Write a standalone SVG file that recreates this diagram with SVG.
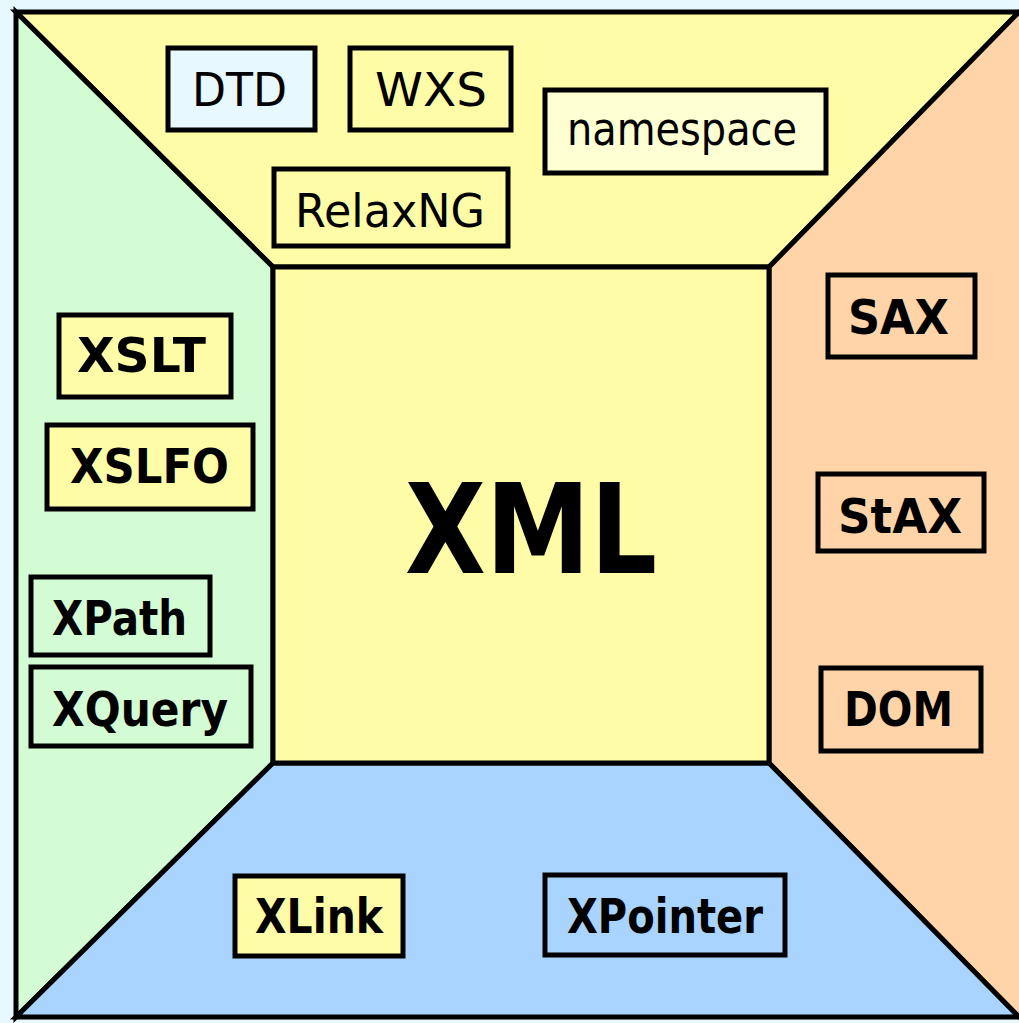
<svg xmlns="http://www.w3.org/2000/svg" width="1019" height="1023" viewBox="0 0 1019 1023">
<style>
.edge{stroke:#000;stroke-width:5;stroke-linejoin:miter}
.box{stroke:#000;stroke-width:5}
.lbl{font-family:"DejaVu Sans","Liberation Sans",sans-serif;font-size:47px;text-anchor:middle;fill:#000}
.b{font-weight:bold;font-size:48px}
.yel{fill:#fffca8}.grn{fill:#d4fcd4}.org{fill:#ffd4a8}.blu{fill:#a8d4ff}.sky{fill:#e8f8ff}.lyel{fill:#ffffd4}
</style>
<rect x="0" y="0" width="1019" height="1023" fill="#e8f8ff"/>
<g id="panels">
<polygon class="edge yel" points="16,12 1019,12 769,267 273,267"/>
<polygon class="edge grn" points="16,12 273,267 273,763 16,1017"/>
<polygon class="edge org" points="1019,12 1035,12 1035,1017 1019,1017 769,763 769,267"/>
<polygon class="edge blu" points="16,1017 273,763 769,763 1019,1017"/>
</g>
<g id="xml">
<rect class="edge yel" x="273" y="267" width="496" height="496"/>
<text class="lbl b" x="531" y="573" style="font-size:124px" textLength="252" lengthAdjust="spacingAndGlyphs">XML</text>
</g>
<g id="dtd"><rect class="box sky" x="168" y="48" width="147" height="82"/><text class="lbl" x="239.5" y="106" textLength="95" lengthAdjust="spacingAndGlyphs">DTD</text></g>
<g id="wxs"><rect class="box yel" x="350" y="48" width="161" height="82"/><text class="lbl" x="431" y="106" textLength="112" lengthAdjust="spacingAndGlyphs">WXS</text></g>
<g id="relaxng"><rect class="box yel" x="274" y="169" width="234" height="77"/><text class="lbl" x="390" y="227" textLength="190" lengthAdjust="spacingAndGlyphs">RelaxNG</text></g>
<g id="namespace"><rect class="box lyel" x="545" y="90" width="281" height="83"/><text class="lbl" x="682" y="145" textLength="230" lengthAdjust="spacingAndGlyphs">namespace</text></g>
<g id="xslt"><rect class="box yel" x="59" y="315" width="172" height="82"/><text class="lbl b" x="141.5" y="372" textLength="129" lengthAdjust="spacingAndGlyphs">XSLT</text></g>
<g id="xslfo"><rect class="box yel" x="47" y="425" width="206" height="84"/><text class="lbl b" x="149.5" y="483" textLength="159" lengthAdjust="spacingAndGlyphs">XSLFO</text></g>
<g id="xpath"><rect class="box grn" x="31" y="577" width="179" height="78"/><text class="lbl b" x="119.5" y="635" textLength="135" lengthAdjust="spacingAndGlyphs">XPath</text></g>
<g id="xquery"><rect class="box grn" x="31" y="667" width="220" height="79"/><text class="lbl b" x="140" y="726" textLength="176" lengthAdjust="spacingAndGlyphs">XQuery</text></g>
<g id="sax"><rect class="box org" x="828" y="275" width="147" height="82"/><text class="lbl b" x="898.5" y="334" textLength="101" lengthAdjust="spacingAndGlyphs">SAX</text></g>
<g id="stax"><rect class="box org" x="818" y="474" width="166" height="77"/><text class="lbl b" x="900" y="533" textLength="124" lengthAdjust="spacingAndGlyphs">StAX</text></g>
<g id="dom"><rect class="box org" x="821" y="668" width="160" height="83"/><text class="lbl b" x="898.5" y="726" textLength="109" lengthAdjust="spacingAndGlyphs">DOM</text></g>
<g id="xlink"><rect class="box yel" x="235" y="876" width="168" height="80"/><text class="lbl b" x="319" y="933" textLength="128" lengthAdjust="spacingAndGlyphs">XLink</text></g>
<g id="xpointer"><rect class="box blu" x="545" y="875" width="240" height="80"/><text class="lbl b" x="665" y="933" textLength="196" lengthAdjust="spacingAndGlyphs">XPointer</text></g>
<g id="connectors"></g>
</svg>
